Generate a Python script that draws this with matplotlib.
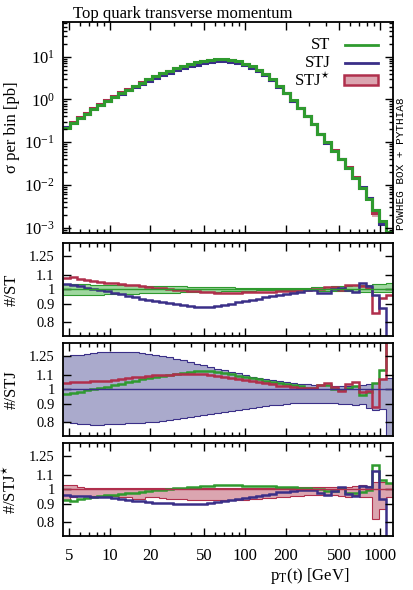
import numpy as np
import matplotlib.pyplot as plt
from matplotlib.ticker import FixedLocator, FixedFormatter, NullLocator, NullFormatter
from matplotlib.patches import Rectangle

plt.rcParams['font.family'] = ['Liberation Serif', 'DejaVu Serif']
plt.rcParams['mathtext.fontset'] = 'stix'
plt.rcParams['font.size'] = 12

# bin edges in pT(t) [GeV]
edges = [4.5, 5.06, 5.69, 6.40, 7.19, 8.09, 9.09, 10.22, 11.50, 12.92,
         14.53, 16.34, 18.37, 20.65, 23.22, 26.11, 29.36, 33.01, 37.12, 41.73,
         46.92, 52.76, 59.32, 66.70, 75.00, 84.33, 94.82, 106.6, 119.9, 134.8,
         151.6, 170.4, 191.6, 215.5, 242.3, 272.4, 306.3, 344.4, 387.2, 435.4,
         489.5, 550.5, 618.9, 695.9, 782.5, 879.8, 989.2, 1112, 1250]

# ST cross section per bin [pb]
st = [0.215, 0.28, 0.36, 0.46, 0.59, 0.75, 0.93, 1.148, 1.413, 1.698,
      2.042, 2.455, 2.951, 3.467, 4.074, 4.677, 5.370, 6.026, 6.761, 7.413,
      7.943, 8.414, 8.710, 8.810, 8.511, 7.762, 6.918, 6.026, 5.012, 3.981,
      2.951, 2.089, 1.445, 0.955, 0.631, 0.407, 0.263, 0.158, 0.100, 0.0631,
      0.0398, 0.0251, 0.0148, 0.00851, 0.00479, 0.00263, 0.00141, 0.00079]

# STJ / ST
r_stj = [1.035, 1.028, 1.020, 1.010, 1.003, 0.995, 0.986, 0.976, 0.965, 0.955,
         0.946, 0.936, 0.927, 0.919, 0.912, 0.906, 0.900, 0.894, 0.890, 0.886,
         0.884, 0.885, 0.889, 0.895, 0.902, 0.912, 0.920, 0.926, 0.936, 0.944,
         0.952, 0.962, 0.968, 0.975, 0.983, 0.990, 0.990, 0.976, 0.974, 1.000,
         1.005, 0.995, 0.980, 1.040, 1.020, 0.960, 0.878, 0.500]

# STJ* / ST
r_stjs = [1.075, 1.082, 1.072, 1.062, 1.057, 1.050, 1.043, 1.040, 1.034, 1.027,
          1.025, 1.018, 1.015, 1.010, 1.004, 1.000, 0.995, 0.990, 0.988, 0.984,
          0.980, 0.977, 0.975, 0.972, 0.972, 0.975, 0.977, 0.979, 0.981, 0.982,
          0.983, 0.985, 0.985, 0.987, 0.990, 0.994, 1.000, 1.003, 1.015, 1.015,
          0.990, 1.030, 1.030, 1.020, 1.005, 0.850, 0.940, 0.960]

# relative uncertainty bands
st_hi = [1.035, 1.034, 1.033, 1.032, 1.031, 1.030, 1.029, 1.028, 1.027, 1.026,
         1.025, 1.024, 1.023, 1.022, 1.021, 1.020, 1.019, 1.018, 1.017, 1.016,
         1.015, 1.014, 1.013, 1.012, 1.011, 1.010, 1.009, 1.008, 1.007, 1.006,
         1.005, 1.004, 1.004, 1.005, 1.007, 1.009, 1.011, 1.013, 1.015, 1.018,
         1.020, 1.022, 1.025, 1.027, 1.030, 1.033, 1.036, 1.039]
st_lo = [0.957, 0.958, 0.959, 0.961, 0.962, 0.963, 0.964, 0.965, 0.967, 0.968,
         0.969, 0.970, 0.971, 0.973, 0.974, 0.975, 0.976, 0.977, 0.979, 0.980,
         0.981, 0.982, 0.983, 0.985, 0.986, 0.987, 0.988, 0.989, 0.991, 0.992,
         0.993, 0.994, 0.995, 0.994, 0.993, 0.991, 0.990, 0.989, 0.988, 0.987,
         0.985, 0.984, 0.983, 0.982, 0.981, 0.979, 0.978, 0.977]

stj_hi = [1.250, 1.258, 1.265, 1.272, 1.280, 1.286, 1.292, 1.292, 1.290, 1.288,
          1.284, 1.280, 1.273, 1.265, 1.255, 1.243, 1.232, 1.220, 1.205, 1.190,
          1.177, 1.163, 1.150, 1.137, 1.124, 1.112, 1.100, 1.088, 1.078, 1.070,
          1.062, 1.055, 1.048, 1.043, 1.038, 1.034, 1.030, 1.027, 1.025, 1.023,
          1.022, 1.020, 1.020, 1.030, 1.035, 1.040, 1.070, 1.075]
stj_lo = [0.797, 0.792, 0.788, 0.785, 0.784, 0.784, 0.785, 0.786, 0.788, 0.790,
          0.792, 0.795, 0.797, 0.800, 0.805, 0.810, 0.815, 0.821, 0.826, 0.832,
          0.837, 0.843, 0.850, 0.856, 0.862, 0.866, 0.872, 0.878, 0.884, 0.890,
          0.895, 0.899, 0.903, 0.906, 0.908, 0.910, 0.910, 0.911, 0.909, 0.910,
          0.905, 0.900, 0.895, 0.905, 0.880, 0.865, 0.870, 0.500]

stjs_hi = [1.030, 1.025, 1.012, 1.010, 1.010, 1.010, 1.010, 1.010, 1.010, 1.010,
           1.010, 1.010, 1.010, 1.010, 1.010, 1.010, 1.010, 1.010, 1.010, 1.010,
           1.010, 1.010, 1.010, 1.010, 1.010, 1.010, 1.010, 1.010, 1.010, 1.010,
           1.010, 1.010, 1.010, 1.010, 1.012, 1.012, 1.012, 1.015, 1.015, 1.012,
           1.015, 1.015, 1.020, 1.025, 1.020, 1.050, 1.050, 1.040]
stjs_lo = [0.930, 0.945, 0.955, 0.955, 0.955, 0.955, 0.955, 0.952, 0.950, 0.945,
           0.935, 0.935, 0.945, 0.945, 0.940, 0.935, 0.935, 0.932, 0.930, 0.930,
           0.928, 0.928, 0.928, 0.928, 0.930, 0.930, 0.930, 0.932, 0.935, 0.940,
           0.942, 0.945, 0.948, 0.952, 0.955, 0.958, 0.960, 0.960, 0.958, 0.960,
           0.955, 0.950, 0.960, 0.945, 0.950, 0.815, 0.870, 0.950]

xticks = [5, 10, 20, 50, 100, 200, 500, 1000]
xminor = [6, 7, 8, 9, 30, 40, 60, 70, 80, 90, 300, 400, 600, 700, 800, 900]
rticks = [0.8, 0.9, 1, 1.1, 1.25]
rlabels = ['0.8', '0.9', '1', '1.1', '1.25']

GREEN = '#2f9a2f'
NAVY = '#3a2f88'
RED = '#b02f4c'
GREEN_F = '#9fd79f'
NAVY_F = '#aaaacc'
RED_F = '#dba5b0'

st = np.array(st)
r_stj = np.array(r_stj)
r_stjs = np.array(r_stjs)

fig = plt.figure(figsize=(4.13, 5.90), dpi=100)
W, H = 413.0, 590.0
def rect(top, bottom):
    return [63 / W, 1 - bottom / H, 330 / W, (bottom - top) / H]

ax0 = fig.add_axes(rect(22, 233))
ax1 = fig.add_axes(rect(243, 336))
ax2 = fig.add_axes(rect(343, 436))
ax3 = fig.add_axes(rect(443, 536))

for ax in (ax0, ax1, ax2, ax3):
    ax.set_xscale('log')
    ax.set_xlim(4.5, 1250)
    ax.xaxis.set_major_locator(FixedLocator(xticks))
    ax.xaxis.set_minor_locator(FixedLocator(xminor))
    ax.xaxis.set_major_formatter(NullFormatter())
    ax.xaxis.set_minor_formatter(NullFormatter())
    ax.tick_params(which='both', direction='in', top=True, right=True, width=1)
    ax.tick_params(which='major', length=6, pad=6)
    ax.tick_params(which='minor', length=3)
    for s in ax.spines.values():
        s.set_linewidth(1.3)

# main panel
sjs = st * r_stjs
ax0.stairs(sjs * np.array(stjs_hi), edges, baseline=sjs * np.array(stjs_lo), fill=True, color=RED_F, lw=0)
ax0.stairs(sjs, edges, baseline=None, color=RED, lw=2.2)
ax0.stairs(st * r_stj, edges, baseline=None, color=NAVY, lw=2.2)
ax0.stairs(st * np.array(st_hi), edges, baseline=st * np.array(st_lo), fill=True, color=GREEN_F, lw=0)
ax0.stairs(st, edges, baseline=None, color=GREEN, lw=2.2)
ax0.set_yscale('log')
ax0.set_ylim(7.5e-4, 65)
ax0.set_ylabel('σ per bin [pb]')
ax0.yaxis.set_label_coords(-0.13, 0.5)

# legend, text right aligned before the key
for y, lab in [(0.891, 'ST'), (0.806, 'STJ'), (0.722, r'STJ$^{\star}$')]:
    ax0.text(0.81, y, lab, transform=ax0.transAxes, ha='right', va='center')
ax0.plot([0.855, 0.955], [0.891, 0.891], transform=ax0.transAxes, color=GREEN, lw=2)
ax0.plot([0.855, 0.955], [0.806, 0.806], transform=ax0.transAxes, color=NAVY, lw=2)
ax0.add_patch(Rectangle((0.85, 0.70), 0.105, 0.048, transform=ax0.transAxes,
                        facecolor=RED_F, edgecolor=RED, lw=1.8))

# ratio panels
def band(ax, lo, hi, fc, ec):
    ax.stairs(hi, edges, baseline=lo, fill=True, color=fc, lw=0)
    ax.stairs(hi, edges, baseline=None, color=ec, lw=0.8)
    ax.stairs(lo, edges, baseline=None, color=ec, lw=0.8)
    ax.axhline(1, color=ec, lw=1)

band(ax1, st_lo, st_hi, GREEN_F, GREEN)
ax1.stairs(r_stjs, edges, baseline=None, color=RED, lw=1.8)
ax1.stairs(r_stj, edges, baseline=None, color=NAVY, lw=1.8)

band(ax2, stj_lo, stj_hi, NAVY_F, NAVY)
ax2.stairs(1 / r_stj, edges, baseline=None, color=GREEN, lw=1.8)
ax2.stairs(r_stjs / r_stj, edges, baseline=None, color=RED, lw=1.8)

band(ax3, stjs_lo, stjs_hi, RED_F, RED)
ax3.stairs(1 / r_stjs, edges, baseline=None, color=GREEN, lw=1.8)
ax3.stairs(r_stj / r_stjs, edges, baseline=None, color=NAVY, lw=1.8)

for ax, lab in [(ax1, '#/ST'), (ax2, '#/STJ'), (ax3, r'#/STJ$^{\star}$')]:
    ax.set_yscale('log')
    ax.set_ylim(0.725, 1.37)
    ax.yaxis.set_major_locator(FixedLocator(rticks))
    ax.yaxis.set_major_formatter(FixedFormatter(rlabels))
    ax.yaxis.set_minor_locator(NullLocator())
    ax.yaxis.set_minor_formatter(NullFormatter())
    ax.tick_params(axis='y', labelsize=10.5)
    ax.set_ylabel(lab)
    ax.yaxis.set_label_coords(-0.13, 0.5)

ax3.xaxis.set_major_formatter(FixedFormatter([str(t) for t in xticks]))
ax3.tick_params(axis='x', which='major', pad=8.5)

fig.text(73 / W, 1 - 14 / H, 'Top quark transverse momentum', va='center', ha='left')
fig.text(310 / W, 1 - 566 / H, r'p$_\mathrm{T}$(t) [GeV]', va='top', ha='center')
fig.text(401 / W, 1 - 230 / H, 'POWHEG BOX + PYTHIA8', rotation=90, family='Liberation Mono',
         fontsize=8, va='bottom', ha='center')

fig.savefig('out.png', dpi=100)
